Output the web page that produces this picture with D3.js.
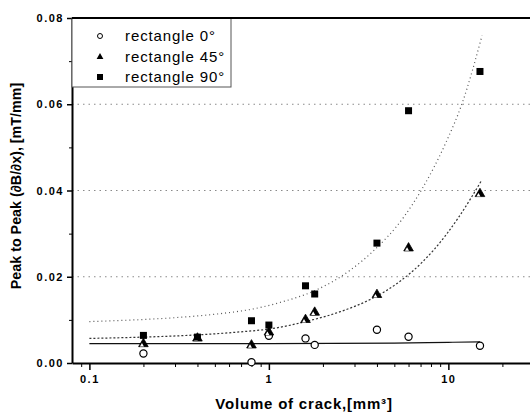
<!DOCTYPE html>
<html>
<head>
<meta charset="utf-8">
<script src="https://cdn.jsdelivr.net/npm/d3@7"></script>
<style>
  body { margin: 0; background: #fff; }
  svg { display: block; font-family: Arial, "Liberation Sans", sans-serif; }
</style>
</head>
<body>
<div id="chart"></div>
<script>
// measured data: volume of crack (mm^3) vs peak to peak value (mT/mm)
var rect0X = [0.2, 0.8, 1, 1.6, 1.8, 4, 6, 15];
var rect0Y = [0.0022, 0.0002, 0.0063, 0.0057, 0.0042, 0.0077, 0.0061, 0.0040];
var rect45X = [0.2, 0.4, 0.8, 1, 1.6, 1.8, 4, 6, 15];
var rect45Y = [0.0042, 0.0055, 0.0039, 0.0069, 0.0098, 0.0115, 0.0156, 0.0264, 0.0390];
var rect90X = [0.2, 0.4, 0.8, 1, 1.6, 1.8, 4, 6, 15];
var rect90Y = [0.0064, 0.0060, 0.0098, 0.0088, 0.0179, 0.0160, 0.0278, 0.0585, 0.0676];

// fitted curves
var fit0X = [0.1, 1, 5, 10, 15];
var fit0Y = [0.0045, 0.0045, 0.0046, 0.0048, 0.0049];
var fit45X = [0.1, 0.685, 1.05, 1.6, 2.5, 3.78, 5.2, 7.2, 9.7, 11.5, 15.4];
var fit45Y = [0.0057, 0.0072, 0.0080, 0.0096, 0.0119, 0.0150, 0.0185, 0.0235, 0.0297, 0.0340, 0.0425];
var fit90X = [0.1, 0.685, 1.19, 1.83, 2.81, 3.78, 5.68, 7.19, 9.71, 12.0, 15.4];
var fit90Y = [0.0096, 0.0120, 0.0142, 0.0169, 0.0214, 0.0258, 0.0340, 0.0406, 0.0512, 0.0605, 0.0759];

var legendLabels = ["rectangle 0\u00b0", "rectangle 45\u00b0", "rectangle 90\u00b0"];
var yTicks = [0, 0.02, 0.04, 0.06, 0.08];
var yMinorTicks = [0.01, 0.03, 0.05, 0.07];
var xTicks = [0.1, 1, 10];
var xMinorTicks = [0.09, 0.2, 0.3, 0.4, 0.5, 0.6, 0.7, 0.8, 0.9, 2, 3, 4, 5, 6, 7, 8, 9, 20, 30];

var width = 530, height = 415;
var plotLeft = 72, plotTop = 18, plotBottom = 363;

var svg = d3.select("#chart").append("svg")
    .attr("width", width)
    .attr("height", height);

var x = d3.scaleLog().domain([0.08, 30]).range([plotLeft, 534]);
var y = d3.scaleLinear().domain([0, 0.08]).range([plotBottom, plotTop]);

// dotted horizontal grid
svg.append("g")
    .selectAll("line")
    .data([0.02, 0.04, 0.06])
    .enter().append("line")
    .attr("x1", plotLeft).attr("x2", width)
    .attr("y1", function(d) { return y(d); })
    .attr("y2", function(d) { return y(d); })
    .attr("stroke", "#8a8a8a")
    .attr("stroke-width", 1)
    .attr("stroke-dasharray", "1.5,4");

// y axis
var yAxis = d3.axisLeft(y).tickValues(yTicks).tickSize(5).tickSizeOuter(0)
    .tickFormat(d3.format(".2f"));
var gy = svg.append("g")
    .attr("transform", "translate(" + plotLeft + ",0)")
    .call(yAxis);
gy.select(".domain").attr("stroke-width", 2);
gy.selectAll(".tick line").attr("stroke-width", 1.5);
gy.selectAll("text")
    .attr("x", -8)
    .style("font-size", "11px")
    .style("font-weight", "bold")
    .style("letter-spacing", "1.5px");
svg.append("g")
    .attr("transform", "translate(" + plotLeft + ",0)")
    .call(d3.axisLeft(y).tickValues(yMinorTicks).tickSize(3).tickFormat(""))
    .select(".domain").remove();

// x axis
var xAxis = d3.axisBottom(x).tickValues(xTicks).tickSize(7).tickSizeOuter(0)
    .tickFormat(function(d) { return d; });
var gx = svg.append("g")
    .attr("transform", "translate(0," + plotBottom + ")")
    .call(xAxis);
gx.select(".domain").attr("stroke-width", 2);
gx.selectAll(".tick line").attr("stroke-width", 1.5);
gx.selectAll("text")
    .attr("y", 12)
    .style("font-size", "11px")
    .style("font-weight", "bold")
    .style("letter-spacing", "1.5px");
svg.append("g")
    .attr("transform", "translate(0," + plotBottom + ")")
    .call(d3.axisBottom(x).tickValues(xMinorTicks).tickSize(4).tickFormat(""))
    .select(".domain").remove();

// axis titles
svg.append("text")
    .attr("x", 304).attr("y", 409)
    .attr("text-anchor", "middle")
    .style("font-size", "15px")
    .style("font-weight", "bold")
    .style("letter-spacing", "0.8px")
    .text("Volume of crack,[mm\u00b3]");

svg.append("text")
    .attr("transform", "translate(21,186)rotate(-90)")
    .attr("text-anchor", "middle")
    .style("font-size", "14.3px")
    .style("font-weight", "bold")
    .text("Peak to Peak (\u2202B/\u2202x), [mT/mm]");

// fit lines
var fitLine = d3.line()
    .x(function(d) { return x(d[0]); })
    .y(function(d) { return y(d[1]); })
    .curve(d3.curveMonotoneX);

svg.append("path")
    .attr("d", fitLine(d3.zip(fit0X, fit0Y)))
    .attr("fill", "none").attr("stroke", "#111").attr("stroke-width", 1.2);
svg.append("path")
    .attr("d", fitLine(d3.zip(fit45X, fit45Y)))
    .attr("fill", "none").attr("stroke", "#333").attr("stroke-width", 1.2)
    .attr("stroke-dasharray", "2,2");
svg.append("path")
    .attr("d", fitLine(d3.zip(fit90X, fit90Y)))
    .attr("fill", "none").attr("stroke", "#555").attr("stroke-width", 1.2)
    .attr("stroke-dasharray", "1,3");

// markers
var triangle = d3.symbol().type(d3.symbolTriangle).size(40);

function drawCircle(g, cx, cy) {
    g.append("circle").attr("cx", cx).attr("cy", cy).attr("r", 3.6)
        .attr("fill", "#fff").attr("stroke", "#000").attr("stroke-width", 1.2);
}
function drawTriangle(g, cx, cy) {
    g.append("path").attr("d", triangle)
        .attr("transform", "translate(" + cx + "," + (cy - 1) + ")")
        .attr("fill", "#000").attr("stroke", "#000").attr("stroke-width", 0.8);
    g.append("path").attr("d", d3.symbol().type(d3.symbolTriangle).size(7))
        .attr("transform", "translate(" + (cx - 1.5) + "," + (cy + 0.5) + ")")
        .attr("fill", "#fff");
}
function drawSquare(g, cx, cy) {
    g.append("rect").attr("x", cx - 3.5).attr("y", cy - 3.5)
        .attr("width", 7).attr("height", 7).attr("fill", "#000");
}

var marks = svg.append("g");
rect0X.forEach(function(v, i) { drawCircle(marks, x(v), y(rect0Y[i])); });
rect45X.forEach(function(v, i) { drawTriangle(marks, x(v), y(rect45Y[i])); });
rect90X.forEach(function(v, i) { drawSquare(marks, x(v), y(rect90Y[i])); });

// legend
var legend = svg.append("g");
legend.append("rect")
    .attr("x", plotLeft).attr("y", plotTop)
    .attr("width", 159).attr("height", 69)
    .attr("fill", "#fff").attr("stroke", "#555").attr("stroke-width", 1);
var rowY = [36, 57, 77];
legendLabels.forEach(function(lab, i) {
    if (i == 0) {
        legend.append("circle").attr("cx", 100).attr("cy", rowY[i]).attr("r", 2.5)
            .attr("fill", "#fff").attr("stroke", "#000").attr("stroke-width", 1);
    } else if (i == 1) {
        legend.append("path").attr("d", d3.symbol().type(d3.symbolTriangle).size(20))
            .attr("transform", "translate(100," + rowY[i] + ")").attr("fill", "#000");
    } else {
        legend.append("rect").attr("x", 97).attr("y", rowY[i] - 3)
            .attr("width", 6).attr("height", 6).attr("fill", "#000");
    }
    legend.append("text")
        .attr("x", 125).attr("y", rowY[i] + 5)
        .style("font-size", "15px")
        .style("letter-spacing", "0.9px")
        .text(lab);
});

// top frame line, drawn over the legend
svg.append("line")
    .attr("x1", plotLeft).attr("x2", width)
    .attr("y1", plotTop).attr("y2", plotTop)
    .attr("stroke", "#000").attr("stroke-width", 2);
</script>
</body>
</html>
